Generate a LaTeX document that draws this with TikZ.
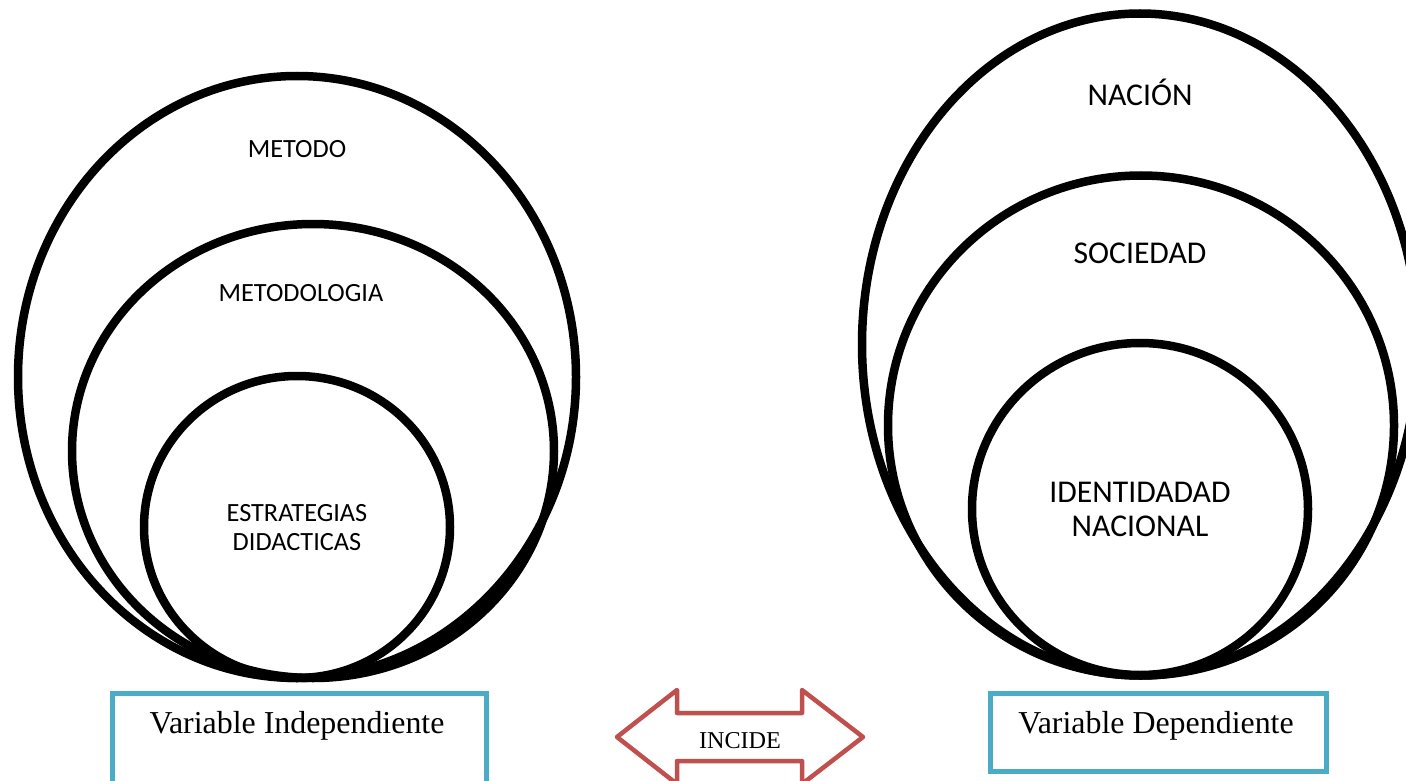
\documentclass[tikz,border=0pt]{standalone}
\usepackage{fontspec}
\setmainfont{Liberation Serif}
\newfontfamily\lblfont{Carlito}
\usepackage{xcolor}
\usepackage{tikz}
\definecolor{boxteal}{HTML}{4BACC6}
\definecolor{arrowred}{HTML}{C0504D}

\begin{document}
\begin{tikzpicture}[x=1pt, y=-1pt,
		ring/.style={line width=8.5pt},
		smalllbl/.style={font=\lblfont\fontsize{26.3}{28.3}\selectfont, align=center, anchor=base, inner sep=0pt},
		biglbl/.style={font=\lblfont\fontsize{31.7}{34}\selectfont, align=center, anchor=base, inner sep=0pt},
		varbox/.style={draw=boxteal, line width=5pt, anchor=north west},
		vartext/.style={font=\fontsize{31.9}{36}\selectfont, anchor=base, inner sep=0pt}]
	\useasboundingbox (0, 0) rectangle (1406, 781);
	\def\lx{297}
	\def\rx{1140}

	% independiente
	\draw[ring] (\lx, 377) ellipse [x radius=279pt, y radius=301pt];
	\draw[ring] (\lx + 16, 451) ellipse [x radius=241pt, y radius=227pt];
	\draw[ring] (\lx, 527) ellipse [x radius=153pt, y radius=151pt];
	\node[smalllbl] (metodo) at (\lx, 158) {METODO};
	\node[smalllbl] (metodologia) at (\lx + 4, 301.6) {METODOLOGIA};
	\node[smalllbl] (estrategias) at (\lx, 550) {ESTRATEGIAS\\DIDACTICAS};

	% dependiente
	\draw[ring] (\rx, 344.5) ellipse [x radius=278pt, y radius=331pt];
	\draw[ring] (\rx + 1, 425.5) ellipse [x radius=253pt, y radius=250pt];
	\draw[ring] (\rx, 509) ellipse [x radius=168pt, y radius=166pt];
	\node[biglbl] (nacion) at (\rx, 106) {NACIÓN};
	\node[biglbl] (sociedad) at (\rx, 263) {SOCIEDAD};
	\node[biglbl] (identidad) at (\rx, 536) {IDENTIDADAD\\NACIONAL};

	\node[varbox, minimum width=374pt, minimum height=110pt] (indep) at (110, 691) {};
	\node[vartext] (indeptext) at (297, 733) {Variable Independiente};
	\node[varbox, minimum width=336pt, minimum height=78pt] (dep) at (988, 691) {};
	\node[vartext] (deptext) at (1156, 733) {Variable Dependiente};

	\draw[arrowred, line width=4.5pt, line join=round]
		(617, 737) -- (677, 690) -- (677, 713) -- (802, 713) -- (802, 690) -- (863, 737)
		-- (802, 784) -- (802, 761) -- (677, 761) -- (677, 784) -- cycle;
	\node[font=\fontsize{24.2}{28}\selectfont, anchor=base, inner sep=0pt] (incide) at (740, 748) {INCIDE};
\end{tikzpicture}
\end{document}
